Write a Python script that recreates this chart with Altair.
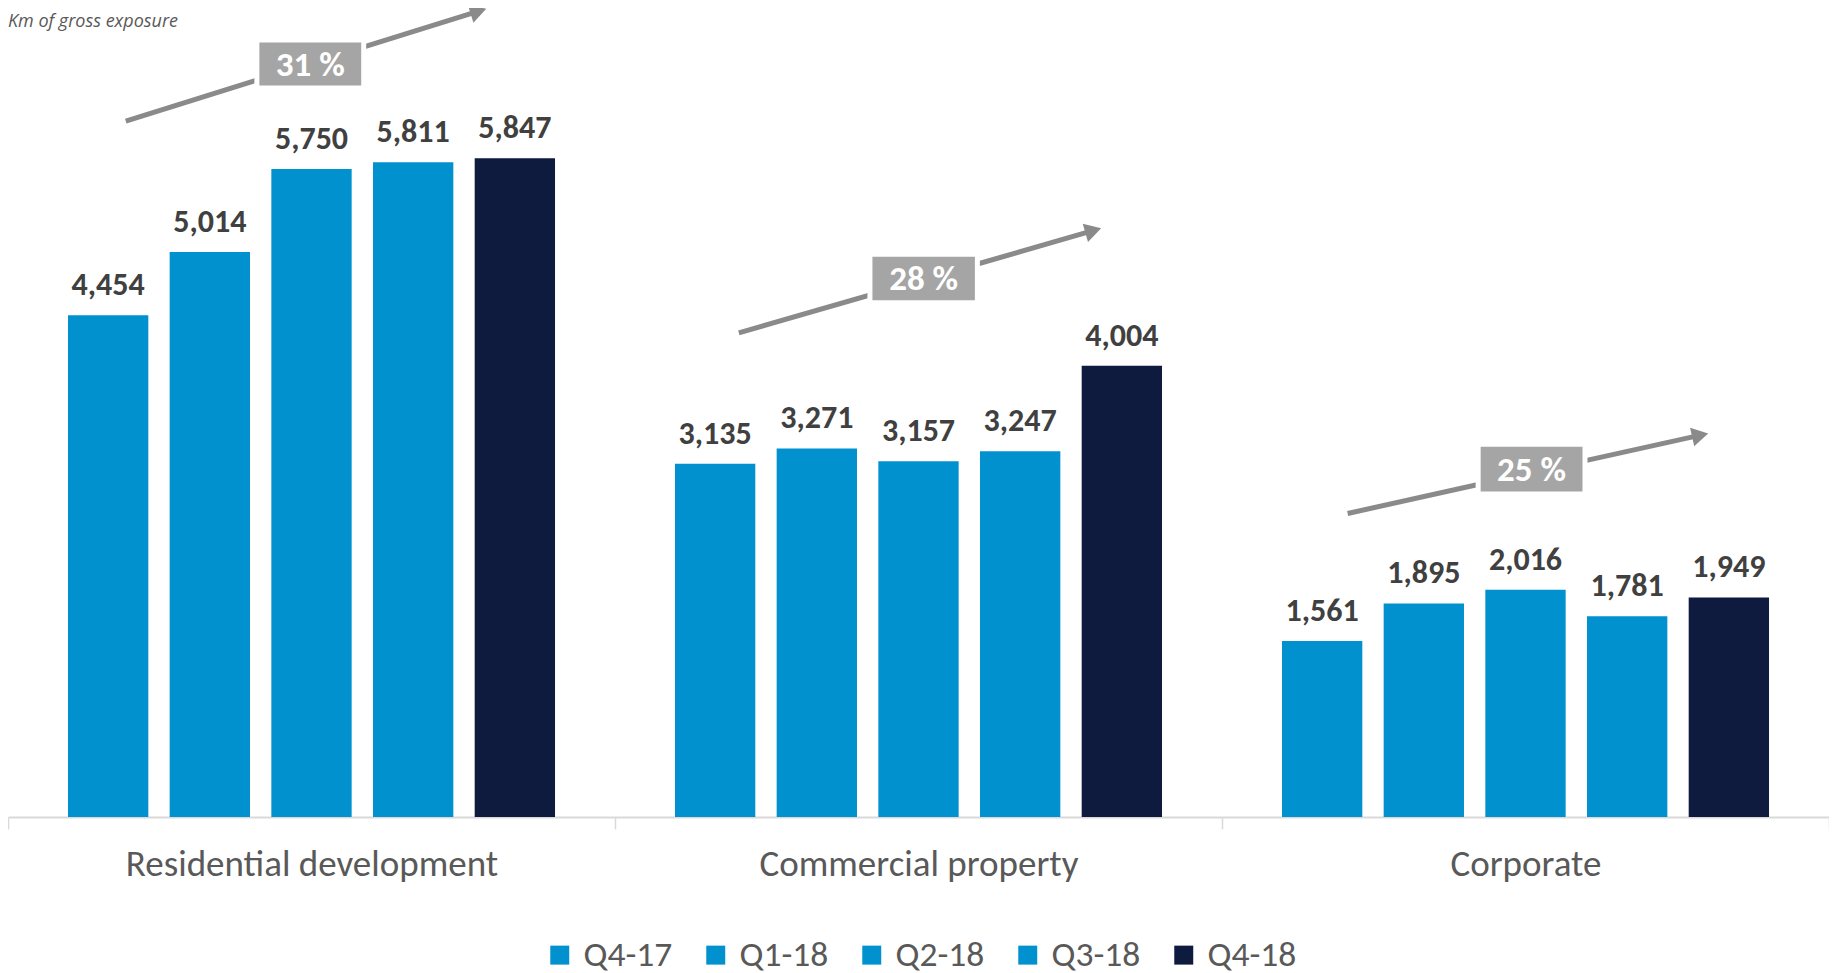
import math
import altair as alt
import pandas as pd

# ---------------- data ----------------
categories = ["Residential development", "Commercial property", "Corporate"]
quarters = ["Q4-17", "Q1-18", "Q2-18", "Q3-18", "Q4-18"]
residential = [4454, 5014, 5750, 5811, 5847]
commercial = [3135, 3271, 3157, 3247, 4004]
corporate = [1561, 1895, 2016, 1781, 1949]
series_by_category = [residential, commercial, corporate]

growth_labels = ["31 %", "28 %", "25 %"]
# annotation positions in data units (x: category index units, y: value units)
arrow_x_start = [0.194, 1.204, 2.207]
arrow_y_start = [6177, 4297, 2694]
arrow_x_end = [0.786, 1.799, 2.799]
arrow_y_end = [7170, 5222, 3402]
box_x_left = [0.410, 1.420, 2.422]
box_x_right = [0.586, 1.597, 2.598]
box_y_low = [6470, 4565, 2867]
box_y_high = [6896, 4994, 3308]

subtitle = "Km of gross exposure"

# ---------------- layout / style ----------------
W = 1821
H = 809
YMAX = 7180
BLUE = "#0291CF"
NAVY = "#0E1A3E"
FONT = "Carlito, Lato, sans-serif"

rows = []
for cat, vals in zip(categories, series_by_category):
    for q, v in zip(quarters, vals):
        rows.append({"category": cat, "quarter": q, "value": v})
df = pd.DataFrame(rows)

# arrows
px_x = W / 3.0
px_y = H / YMAX
arrow_rows = []
for i in range(3):
    dxp = (arrow_x_end[i] - arrow_x_start[i]) * px_x
    dyp = (arrow_y_end[i] - arrow_y_start[i]) * px_y
    L = math.hypot(dxp, dyp)
    ux, uy = dxp / L, dyp / L
    back = 7.0  # pixels the head centre sits behind the tip
    arrow_rows.append({
        "x1": arrow_x_start[i], "y1": arrow_y_start[i],
        "x2": arrow_x_end[i] - ux * 10 / px_x, "y2": arrow_y_end[i] - uy * 10 / px_y,
        "hx": arrow_x_end[i] - ux * back / px_x, "hy": arrow_y_end[i] - uy * back / px_y,
        "angle": (-math.degrees(math.atan2(dyp, dxp))) % 360,
        "bx1": box_x_left[i], "bx2": box_x_right[i],
        "by1": box_y_low[i], "by2": box_y_high[i],
        "bxc": (box_x_left[i] + box_x_right[i]) / 2,
        "byc": (box_y_low[i] + box_y_high[i]) / 2,
        "label": growth_labels[i],
    })
adf = pd.DataFrame(arrow_rows)

xq = alt.Scale(domain=[0, 3], nice=False, zero=False)
yscale = alt.Scale(domain=[0, YMAX], nice=False)

bars = alt.Chart(df).mark_bar().encode(
    x=alt.X("category:N", sort=categories, title=None,
            scale=alt.Scale(paddingInner=0, paddingOuter=0),
            axis=alt.Axis(labelAngle=0, labelFontSize=37, labelColor="#595959",
                          labelFont=FONT, domainColor="#d9d9d9", domainWidth=2,
                          tickColor="#d9d9d9", tickWidth=1.5, tickSize=12,
                          tickBand="extent", labelPadding=17, labelLimit=600)),
    xOffset=alt.XOffset("quarter:N", sort=quarters,
                        scale=alt.Scale(paddingInner=0.21, paddingOuter=0.59)),
    y=alt.Y("value:Q", scale=yscale, axis=None),
    color=alt.Color("quarter:N", sort=quarters,
                    scale=alt.Scale(domain=quarters, range=[BLUE, BLUE, BLUE, BLUE, NAVY]),
                    legend=alt.Legend(title=None, orient="none", direction="horizontal",
                                      columns=5, legendX=534, legendY=929,
                                      symbolType="square", symbolSize=360,
                                      symbolStrokeWidth=0, labelFontSize=35.5,
                                      labelColor="#595959", labelFont=FONT,
                                      labelOffset=6, columnPadding=25)),
)

labels = alt.Chart(df).mark_text(
    baseline="alphabetic", dy=-20, fontSize=32, fontWeight="bold",
    color="#404040", font=FONT,
).encode(
    x=alt.X("category:N", sort=categories),
    xOffset=alt.XOffset("quarter:N", sort=quarters),
    y=alt.Y("value:Q", scale=yscale),
    text=alt.Text("value:Q", format=","),
)

base_a = alt.Chart(adf)
lines = base_a.mark_rule(color="#8a8a8a", strokeWidth=5).encode(
    x=alt.X("x1:Q", scale=xq, axis=None), x2="x2:Q",
    y=alt.Y("y1:Q", scale=yscale), y2="y2:Q",
)
heads = base_a.mark_point(shape="triangle-right", filled=True, color="#8a8a8a",
                          size=360, opacity=1).encode(
    x=alt.X("hx:Q", scale=xq, axis=None),
    y=alt.Y("hy:Q", scale=yscale),
    angle=alt.Angle("angle:Q", scale=None),
)
boxes = base_a.mark_rect(color="#a5a5a5", stroke="white", strokeWidth=5).encode(
    x=alt.X("bx1:Q", scale=xq, axis=None), x2="bx2:Q",
    y=alt.Y("by1:Q", scale=yscale), y2="by2:Q",
)
box_text = base_a.mark_text(color="white", fontSize=35, fontWeight="bold",
                            font=FONT, baseline="middle", dy=1).encode(
    x=alt.X("bxc:Q", scale=xq, axis=None),
    y=alt.Y("byc:Q", scale=yscale),
    text="label:N",
)
title_df = pd.DataFrame({"tx": [0.0], "ty": [YMAX], "t": [subtitle]})
title_text = alt.Chart(title_df).mark_text(
    align="left", baseline="alphabetic", fontSize=18, fontStyle="italic",
    color="#595959", font="Open Sans", dy=19, dx=0,
).encode(
    x=alt.X("tx:Q", scale=xq, axis=None),
    y=alt.Y("ty:Q", scale=yscale),
    text="t:N",
)

main = alt.layer(bars, labels)
ann = alt.layer(lines, heads, boxes, box_text, title_text)

chart = alt.layer(main, ann).resolve_scale(x="independent").properties(
    width=W, height=H,
    autosize=alt.AutoSizeParams(type="none"),
    padding={"left": 0, "top": 0, "right": 0, "bottom": 160},
).configure_view(stroke=None)

chart.save("out.html", embed_options={"renderer": "svg", "actions": False})
